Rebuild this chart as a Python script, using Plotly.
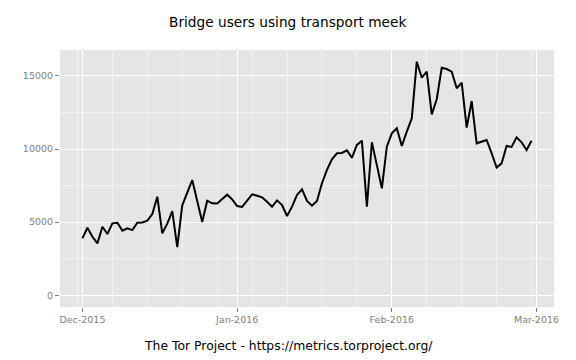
import pandas as pd
import plotly.graph_objects as go

# Daily bridge users using transport meek, 2015-12-01 .. 2016-02-29
start_date = "2015-12-01"
end_date = "2016-02-29"
users = [
    3900, 4620, 4000, 3550, 4690, 4190, 4920, 4960, 4420, 4580,
    4460, 4960, 4980, 5100, 5560, 6740, 4240, 4900, 5760, 3300,
    6150, 7000, 7880, 6450, 5010, 6470, 6290, 6270, 6580, 6880,
    6560, 6100, 6040, 6470, 6900, 6810, 6700, 6400, 6060, 6490,
    6170, 5420, 6060, 6860, 7250, 6450, 6130, 6450, 7660, 8570,
    9300, 9710, 9730, 9910, 9400, 10280, 10570, 6060, 10460, 8900,
    7310, 10160, 11070, 11420, 10210, 11190, 12100, 15970, 14880, 15290,
    12370, 13400, 15560, 15470, 15290, 14150, 14540, 11460, 13280, 10390,
    10480, 10620, 9710, 8730, 9020, 10210, 10140, 10800, 10460, 9930,
    10570,
]
dates = pd.date_range(start_date, end_date, freq="D")

x_tick_vals = ["2015-12-01", "2016-01-01", "2016-02-01", "2016-03-01"]
x_tick_text = ["Dec-2015", "Jan-2016", "Feb-2016", "Mar-2016"]
y_tick_vals = [0, 5000, 10000, 15000]
y_tick_text = ["0", "5000", "10000", "15000"]

title_text = "Bridge users using transport meek"
caption_text = "The Tor Project - https://metrics.torproject.org/"

# ggplot-style 5% expansion
span = dates[-1] - dates[0]
x_range = [dates[0] - span * 0.05, dates[-1] + span * 0.05]
ymax = max(users)
y_range = [-0.05 * ymax, ymax * 1.05]

fig = go.Figure()
fig.add_trace(go.Scatter(
    x=dates, y=users, mode="lines",
    line=dict(color="black", width=2),
    hoverinfo="x+y", showlegend=False,
))

W, H = 576, 360
L, R, T, B = 60, 22, 50, 53
pw, ph = W - L - R, H - T - B

font_family = "DejaVu Sans"
fig.update_layout(
    width=W, height=H,
    margin=dict(l=L, r=R, t=T, b=B, autoexpand=False),
    paper_bgcolor="white",
    plot_bgcolor="#E5E5E5",
    font=dict(family=font_family, color="black"),
    showlegend=False,
    annotations=[
        dict(text=title_text, xref="paper", yref="paper",
             x=(287 - L) / pw, y=(H - B - 22) / ph, xanchor="center",
             yanchor="middle", showarrow=False,
             font=dict(size=13.7, color="black")),
        dict(text=caption_text, xref="paper", yref="paper",
             x=(288 - L) / pw, y=(H - B - 345) / ph, xanchor="center",
             yanchor="middle", showarrow=False,
             font=dict(size=12.4, color="black")),
    ],
)

fig.update_xaxes(
    range=x_range, automargin=False,
    tickmode="array", tickvals=x_tick_vals, ticktext=x_tick_text,
    tickfont=dict(size=9.5, color="#7F7F7F"),
    ticks="outside", ticklen=4, tickcolor="#7F7F7F", tickwidth=1,
    showgrid=True, gridcolor="white", gridwidth=1.2,
    zeroline=False, showline=False,
    minor=dict(tickmode="linear", tick0="2015-12-07", dtick=7 * 86400000,
               showgrid=True, gridcolor="#F2F2F2", gridwidth=0.6, ticks=""),
)
fig.update_yaxes(
    range=y_range, automargin=False,
    tickmode="array", tickvals=y_tick_vals, ticktext=y_tick_text,
    tickfont=dict(size=9.5, color="#7F7F7F"),
    ticks="outside", ticklen=4, tickcolor="#7F7F7F", tickwidth=1,
    showgrid=True, gridcolor="white", gridwidth=1.2,
    zeroline=False, showline=False,
    minor=dict(tickmode="array", tickvals=[2500, 7500, 12500],
               showgrid=True, gridcolor="#F2F2F2", gridwidth=0.6, ticks=""),
)

# remove the browser's default 8px body margin so the figure sits at (0, 0)
fig.write_html("out.html",
               config={"displayModeBar": False},
               post_script="document.body.style.margin='0';")
